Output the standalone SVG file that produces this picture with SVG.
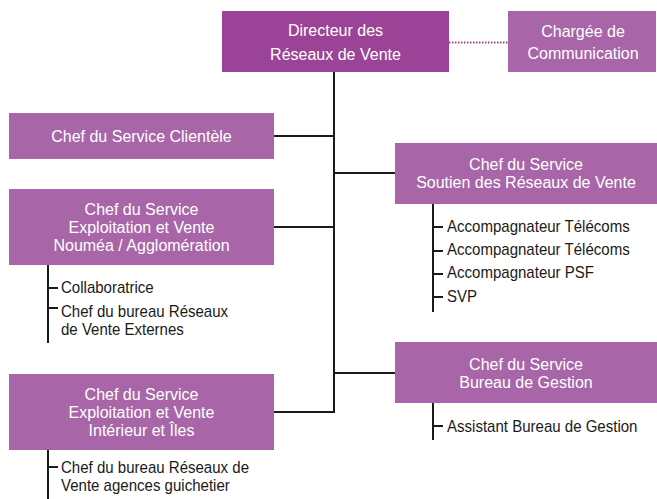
<svg xmlns="http://www.w3.org/2000/svg" width="657" height="499" viewBox="0 0 657 499">
<style>
.box{fill:#a866a9}
.dir{fill:#9b4497}
.bt{font-family:"Liberation Sans",Arial,sans-serif;font-size:16px;fill:#fff;text-anchor:middle}
.it{font-family:"Liberation Sans",Arial,sans-serif;font-size:16px;fill:#1a1a1a}
.ln{stroke:#1a1a1a;stroke-width:2;fill:none}
</style>
<rect width="657" height="499" fill="#fff"/>
<g id="connectors">
<line class="ln" x1="334" y1="72" x2="334" y2="413"/>
<line x1="449" y1="42.5" x2="508" y2="42.5" stroke="#9b4497" stroke-width="2" stroke-dasharray="1.5,1.5"/>
<line class="ln" x1="274" y1="136" x2="334" y2="136"/>
<line class="ln" x1="274" y1="227" x2="334" y2="227"/>
<line class="ln" x1="274" y1="412" x2="334" y2="412"/>
<line class="ln" x1="334" y1="173" x2="395" y2="173"/>
<line class="ln" x1="334" y1="373" x2="395" y2="373"/>
</g>
<g id="directeur">
<rect class="dir" x="222" y="11" width="227" height="61"/>
<text class="bt" x="335.5" y="36">Directeur des</text>
<text class="bt" x="335.5" y="59.5">Réseaux de Vente</text>
</g>
<g id="chargee">
<rect class="box" x="508" y="11" width="148" height="61"/>
<text class="bt" x="583" y="37">Chargée de</text>
<text class="bt" x="583" y="58.5">Communication</text>
</g>
<g id="clientele">
<rect class="box" x="9" y="113" width="265" height="46"/>
<text class="bt" x="141.5" y="142">Chef du Service Clientèle</text>
</g>
<g id="noumea">
<rect class="box" x="9" y="189" width="265" height="76"/>
<text class="bt" x="141.5" y="215">Chef du Service</text>
<text class="bt" x="141.5" y="233">Exploitation et Vente</text>
<text class="bt" x="141.5" y="251">Nouméa / Agglomération</text>
<line class="ln" x1="48" y1="265" x2="48" y2="343"/>
<line class="ln" x1="48" y1="288" x2="58" y2="288"/>
<line class="ln" x1="48" y1="308" x2="58" y2="308"/>
<text class="it" transform="translate(61 293) scale(0.94 1)">Collaboratrice</text>
<text class="it" transform="translate(61 317) scale(0.94 1)">Chef du bureau Réseaux</text>
<text class="it" transform="translate(61 335) scale(0.94 1)">de Vente Externes</text>
</g>
<g id="interieur">
<rect class="box" x="9" y="374" width="265" height="76"/>
<text class="bt" x="141.5" y="400">Chef du Service</text>
<text class="bt" x="141.5" y="418">Exploitation et Vente</text>
<text class="bt" x="141.5" y="436">Intérieur et Îles</text>
<line class="ln" x1="48" y1="450" x2="48" y2="499"/>
<line class="ln" x1="48" y1="467" x2="58" y2="467"/>
<text class="it" transform="translate(61 473) scale(0.94 1)">Chef du bureau Réseaux de</text>
<text class="it" transform="translate(61 491) scale(0.94 1)">Vente agences guichetier</text>
</g>
<g id="soutien">
<rect class="box" x="395" y="143" width="262" height="61"/>
<text class="bt" x="526" y="170">Chef du Service</text>
<text class="bt" x="526" y="188">Soutien des Réseaux de Vente</text>
<line class="ln" x1="433" y1="204" x2="433" y2="312"/>
<line class="ln" x1="433" y1="227" x2="443" y2="227"/>
<line class="ln" x1="433" y1="251" x2="443" y2="251"/>
<line class="ln" x1="433" y1="274" x2="443" y2="274"/>
<line class="ln" x1="433" y1="297" x2="443" y2="297"/>
<text class="it" transform="translate(447 232) scale(0.94 1)">Accompagnateur Télécoms</text>
<text class="it" transform="translate(447 255) scale(0.94 1)">Accompagnateur Télécoms</text>
<text class="it" transform="translate(447 278) scale(0.94 1)">Accompagnateur PSF</text>
<text class="it" transform="translate(447 302) scale(0.94 1)">SVP</text>
</g>
<g id="gestion">
<rect class="box" x="395" y="342" width="262" height="61"/>
<text class="bt" x="526" y="370">Chef du Service</text>
<text class="bt" x="526" y="388">Bureau de Gestion</text>
<line class="ln" x1="433" y1="403" x2="433" y2="440"/>
<line class="ln" x1="433" y1="426" x2="443" y2="426"/>
<text class="it" transform="translate(447 432) scale(0.94 1)">Assistant Bureau de Gestion</text>
</g>
</svg>
